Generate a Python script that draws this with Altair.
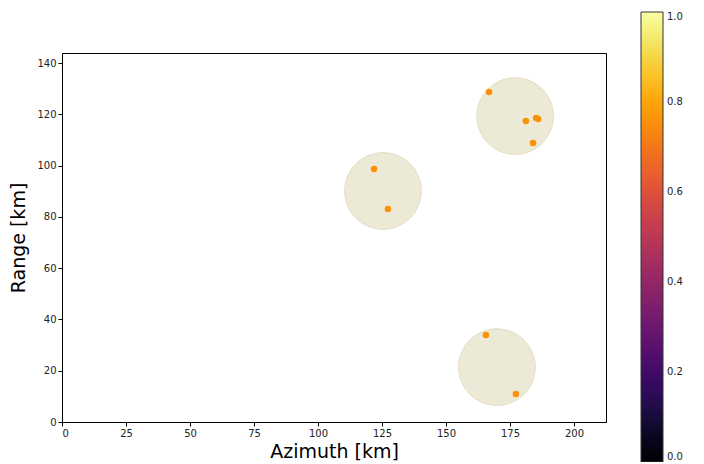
import altair as alt
import pandas as pd

# Large regions (circles)
circle_x = [125.4, 177.0, 169.9]
circle_y = [90.1, 119.3, 21.4]

# Detected points
pt_x = [121.9, 127.3, 166.8, 181.2, 185.2, 186.0, 184.0, 165.6, 177.3]
pt_y = [98.7, 83.1, 128.7, 117.4, 118.6, 118.2, 108.8, 33.9, 10.9]
pt_val = [0.76, 0.76, 0.76, 0.76, 0.76, 0.76, 0.76, 0.76, 0.76]

x_ticks = [0, 25, 50, 75, 100, 125, 150, 175, 200]
y_ticks = [0, 20, 40, 60, 80, 100, 120, 140]
cbar_ticks = [0.0, 0.2, 0.4, 0.6, 0.8, 1.0]

circles = pd.DataFrame({"x": circle_x, "y": circle_y})
points = pd.DataFrame({"x": pt_x, "y": pt_y, "v": pt_val})

xs = alt.Scale(domain=[0, 212.5], nice=False, zero=False)
ys = alt.Scale(domain=[0, 143.9], nice=False, zero=False)

xax = alt.Axis(values=x_ticks, title="Azimuth [km]", grid=False)
yax = alt.Axis(values=y_ticks, title="Range [km]", grid=False)

base_circ = alt.Chart(circles).mark_circle(
    size=5900, color="#ede9d7", opacity=1, stroke="#e3dec4", strokeWidth=1
).encode(
    x=alt.X("x:Q", scale=xs, axis=xax),
    y=alt.Y("y:Q", scale=ys, axis=yax),
)

pts = alt.Chart(points).mark_circle(size=42, opacity=1).encode(
    x=alt.X("x:Q", scale=xs),
    y=alt.Y("y:Q", scale=ys),
    color=alt.Color(
        "v:Q",
        scale=alt.Scale(scheme="inferno", domain=[0, 1]),
        legend=alt.Legend(
            title=None,
            orient="none",
            legendX=579,
            legendY=-41,
            gradientLength=450,
            gradientThickness=22,
            values=cbar_ticks,
            format=".1f",
            gradientStrokeColor="#333",
            gradientStrokeWidth=1,
            labelFontSize=10,
            labelFont="DejaVu Sans",
            labelColor="#222",
            labelOffset=4,
            direction="vertical",
        ),
    ),
)

chart = (
    alt.layer(base_circ, pts)
    .properties(
        width=544,
        height=369,
        autosize=alt.AutoSizeParams(type="none"),
        padding={"left": 54, "top": 45, "right": 90, "bottom": 40},
    )
    .configure_view(stroke="black", strokeWidth=1)
    .configure_axis(
        domainColor="black",
        tickColor="black",
        tickSize=4,
        labelFont="DejaVu Sans",
        labelFontSize=10,
        labelColor="#222",
        titleFont="DejaVu Sans",
        titleFontSize=19,
        titleFontWeight="normal",
        titleColor="black",
        labelPadding=2,
    )
    .configure_axisX(titlePadding=4)
    .configure_axisY(titlePadding=8)
)

chart.save("out.html", embed_options={"renderer": "svg", "actions": False})
